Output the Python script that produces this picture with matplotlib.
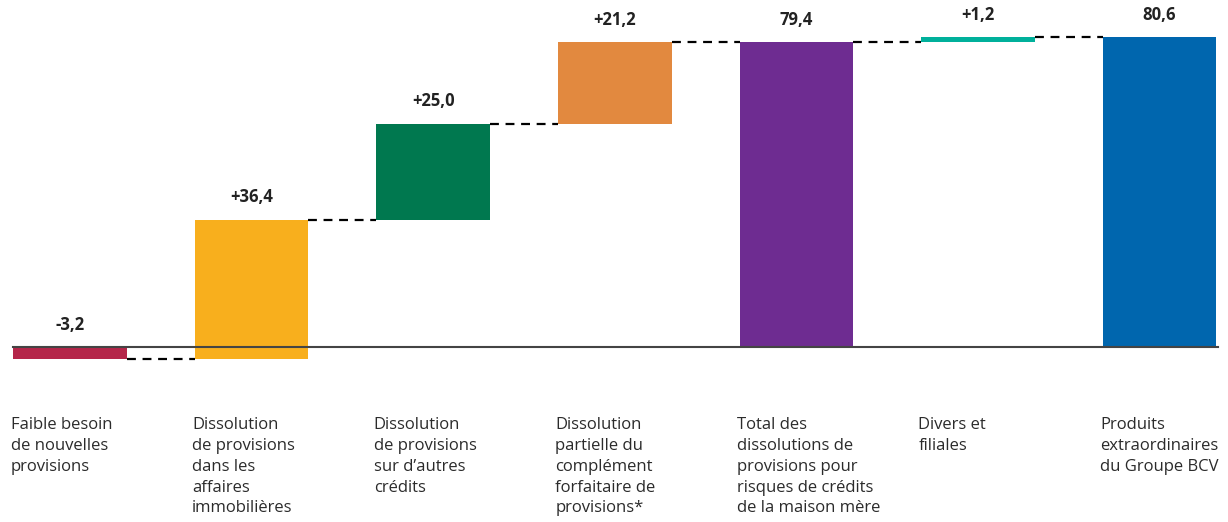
import matplotlib.pyplot as plt

plt.rcParams['font.family'] = ['Open Sans', 'DejaVu Sans']

categories = [
    "Faible besoin\nde nouvelles\nprovisions",
    "Dissolution\nde provisions\ndans les\naffaires\nimmobilières",
    "Dissolution\nde provisions\nsur d’autres\ncrédits",
    "Dissolution\npartielle du\ncomplément\nforfaitaire de\nprovisions*",
    "Total des\ndissolutions de\nprovisions pour\nrisques de crédits\nde la maison mère",
    "Divers et\nfiliales",
    "Produits\nextraordinaires\ndu Groupe BCV",
]
values = [-3.2, 36.4, 25.0, 21.2, 79.4, 1.2, 80.6]
is_total = [False, False, False, False, True, False, True]
colors = ["#B5264A", "#F8AF1D", "#00784F", "#E2893F", "#6E2C91", "#00B09B", "#0066AE"]

fig = plt.figure(figsize=(12.28, 5.22), dpi=100)
ax = fig.add_axes([0, 0, 1, 1])
ax.set_xlim(-0.3855, 6.377)
ax.set_ylim(-45.57, 90.36)
ax.axis('off')

width = 0.625
running = 0.0
tops = []
for i, (v, tot, c) in enumerate(zip(values, is_total, colors)):
    if tot:
        bottom, height = 0, v
        running = v
        label = f"{v:.1f}".replace('.', ',')
    else:
        bottom, height = running, v
        running += v
        label = f"{v:+.1f}".replace('.', ',')
    ax.bar(i, height, bottom=bottom, width=width, color=c, zorder=2)
    top = max(bottom, bottom + height)
    tops.append(running)
    ax.text(i, top + 3.4, label, ha='center', va='bottom', fontsize=12,
            fontweight='bold', color='#222222')
    ax.text(i - width / 2 - 0.015, -18.3, categories[i], ha='left', va='top',
            fontsize=12, color='#2b2b2b', linespacing=1.4)

# connectors between bars
for i in range(len(values) - 1):
    ax.plot([i + width / 2, i + 1 - width / 2], [tops[i], tops[i]],
            color='black', lw=1.6, ls=(0, (4, 3)), zorder=3)

ax.plot([-width / 2, 6 + width / 2 + 0.01], [0, 0], color='#444444', lw=1.5, zorder=4)

fig.savefig('out.png', dpi=100)
